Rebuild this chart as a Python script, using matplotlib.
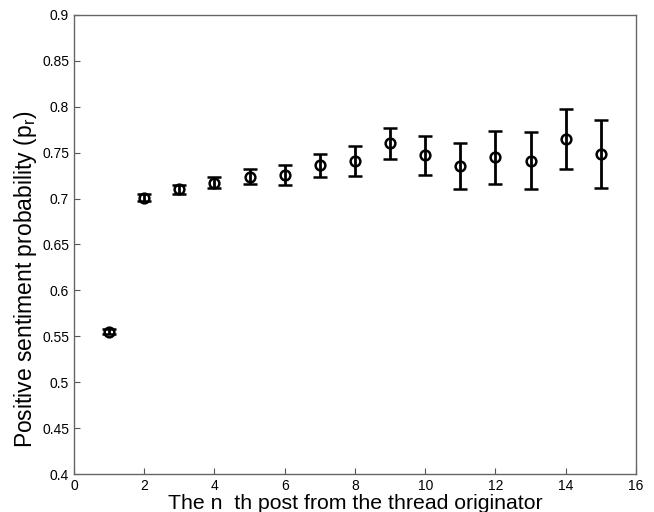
import matplotlib
matplotlib.use("Agg")
import matplotlib.pyplot as plt
import numpy as np

plt.rcParams['font.family'] = ['Liberation Sans', 'DejaVu Sans']
plt.rcParams['mathtext.fontset'] = 'custom'
plt.rcParams['mathtext.rm'] = 'Liberation Sans'

post_index = [1, 2, 3, 4, 5, 6, 7, 8, 9, 10, 11, 12, 13, 14, 15]
prob_mean = [0.555, 0.701, 0.710, 0.717, 0.724, 0.726, 0.736, 0.741,
             0.760, 0.747, 0.735, 0.745, 0.741, 0.765, 0.748]
prob_err = [0.003, 0.004, 0.005, 0.006, 0.008, 0.011, 0.013, 0.016,
            0.017, 0.021, 0.025, 0.029, 0.031, 0.033, 0.037]

xticks = np.arange(0, 17, 2)
yticks = np.arange(0.4, 0.9001, 0.05)

fig = plt.figure(figsize=(6.54, 5.12), dpi=100)
ax = fig.add_axes([0.113, 0.074, 0.8595, 0.897])

ax.errorbar(post_index, prob_mean, yerr=prob_err, fmt='o', color='black',
            mfc='none', mec='black', ms=7, mew=1.8, elinewidth=2,
            capsize=5, capthick=2)

ax.set_xlim(0, 16)
ax.set_ylim(0.4, 0.9)
ax.set_xticks(xticks)
ax.set_yticks(yticks)
ax.set_yticklabels([f"{v:g}" for v in np.round(yticks, 2)])
ax.tick_params(direction='in', length=4, labelsize=10, color='#555555')
for s in ax.spines.values():
    s.set_color('#666666')
    s.set_linewidth(1)

# labels placed by hand, like the original (MATLAB export)
fig.text(355 / 654, 3 / 512, "The n  th post from the thread originator",
         fontsize=15.3, ha='center', va='baseline')
fig.text(26 / 654, 1 - 279 / 512, r"Positive sentiment probability (p$_\mathrm{r}$)",
         fontsize=16.5, rotation=90, ha='center', va='center')

fig.savefig("out.png", dpi=100)
